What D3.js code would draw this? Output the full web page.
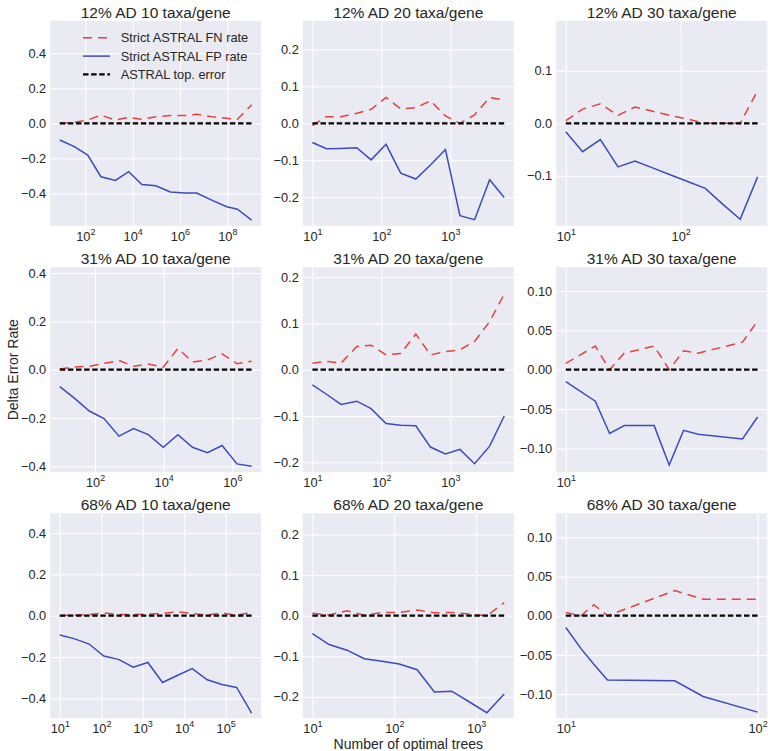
<!DOCTYPE html>
<html>
<head>
<meta charset="utf-8">
<script src="https://cdn.jsdelivr.net/npm/d3@7"></script>
<style>
  body { margin: 0; background: #ffffff; }
  svg { display: block; }
  text { font-family: "Liberation Sans", Arial, sans-serif; fill: #262626; }
</style>
</head>
<body>
<svg id="chart" width="768" height="751"></svg>
<script>
// ---- panel titles ----
const titles = [
  "12% AD 10 taxa/gene", "12% AD 20 taxa/gene", "12% AD 30 taxa/gene",
  "31% AD 10 taxa/gene", "31% AD 20 taxa/gene", "31% AD 30 taxa/gene",
  "68% AD 10 taxa/gene", "68% AD 20 taxa/gene", "68% AD 30 taxa/gene"
];
const seriesNames = ["Strict ASTRAL FN rate", "Strict ASTRAL FP rate", "ASTRAL top. error"];

// ---- number of optimal trees (x) and delta error rates per panel ----
const x12_10 = [8.3, 34, 126, 455, 1860, 6800, 24500, 96000, 390000, 1550000, 5100000, 22000000, 95000000, 270000000, 1070000000];
const fn12_10 = [0.0, 0.006, 0.019, 0.046, 0.019, 0.034, 0.023, 0.038, 0.044, 0.044, 0.051, 0.038, 0.029, 0.023, 0.105];
const fp12_10 = [-0.095, -0.133, -0.181, -0.305, -0.326, -0.276, -0.349, -0.356, -0.392, -0.398, -0.398, -0.438, -0.476, -0.490, -0.552];

const x12_20 = [10, 16, 26, 44, 71, 117, 191, 316, 515, 850, 1380, 2250, 3720, 6050];
const fn12_20 = [-0.006, 0.018, 0.018, 0.027, 0.038, 0.070, 0.039, 0.042, 0.061, 0.020, 0.0, 0.023, 0.070, 0.063];
const fp12_20 = [-0.052, -0.069, -0.068, -0.066, -0.099, -0.057, -0.135, -0.151, -0.113, -0.071, -0.250, -0.261, -0.153, -0.201];

const x12_30 = [10, 14, 20, 28.5, 40, 57, 81, 115, 164, 232, 330, 468];
const fn12_30 = [0.005, 0.027, 0.037, 0.015, 0.031, 0.023, 0.015, 0.008, 0.0, 0.0, 0.0, 0.062];
const fp12_30 = [-0.016, -0.054, -0.031, -0.083, -0.072, -0.085, -0.098, -0.111, -0.124, -0.154, -0.183, -0.102];

const x31_10 = [9.4, 25, 68, 183, 500, 1330, 3570, 9700, 26000, 69000, 188000, 505000, 1370000, 3650000];
const fn31_10 = [0.003, 0.011, 0.014, 0.026, 0.038, 0.014, 0.024, 0.010, 0.088, 0.032, 0.040, 0.066, 0.025, 0.035];
const fp31_10 = [-0.070, -0.118, -0.171, -0.202, -0.275, -0.244, -0.269, -0.321, -0.269, -0.321, -0.344, -0.314, -0.390, -0.400];

const x31_20 = [10, 16, 26, 44, 71, 117, 191, 316, 515, 850, 1380, 2250, 3720, 6050];
const fn31_20 = [0.014, 0.018, 0.014, 0.050, 0.053, 0.032, 0.035, 0.077, 0.032, 0.039, 0.043, 0.061, 0.104, 0.163];
const fp31_20 = [-0.033, -0.053, -0.075, -0.068, -0.084, -0.116, -0.120, -0.121, -0.167, -0.182, -0.172, -0.203, -0.165, -0.100];

const x31_30 = [10, 13.9, 16.3, 19.2, 26.8, 31.7, 37.2, 43.7, 71.8, 85];
const fn31_30 = [0.008, 0.030, 0.0, 0.021, 0.030, 0.0, 0.024, 0.021, 0.035, 0.062];
const fp31_30 = [-0.015, -0.040, -0.081, -0.071, -0.071, -0.121, -0.077, -0.082, -0.088, -0.060];

const x68_10 = [10, 23, 51, 115, 261, 589, 1330, 3000, 6780, 15600, 36000, 81300, 184000, 423000];
const fn68_10 = [0.0, 0.003, 0.006, 0.013, 0.006, 0.005, 0.008, 0.010, 0.019, 0.011, 0.003, 0.014, 0.002, 0.016];
const fp68_10 = [-0.093, -0.112, -0.137, -0.195, -0.211, -0.249, -0.226, -0.323, -0.289, -0.256, -0.310, -0.333, -0.347, -0.471];

const x68_20 = [10, 16, 26.5, 43, 71, 115, 190, 309, 503, 820, 1350, 2200];
const fn68_20 = [0.006, 0.002, 0.012, 0.001, 0.008, 0.008, 0.014, 0.007, 0.008, 0.004, 0.0, 0.032];
const fp68_20 = [-0.044, -0.071, -0.085, -0.106, -0.112, -0.119, -0.133, -0.188, -0.186, -0.212, -0.239, -0.193];

const x68_30 = [10, 12, 14, 16.5, 37, 52, 100];
const fn68_30 = [0.004, 0.0, 0.014, 0.0, 0.032, 0.021, 0.021];
const fp68_30 = [-0.015, -0.042, -0.062, -0.082, -0.083, -0.103, -0.123];

// ---- tick values: x as powers of ten, y as plain values ----
const xExp12_10 = [2, 4, 6, 8], xExp12_20 = [1, 2, 3], xExp12_30 = [1, 2];
const xExp31_10 = [2, 4, 6], xExp31_20 = [1, 2, 3], xExp31_30 = [1];
const xExp68_10 = [1, 2, 3, 4, 5], xExp68_20 = [1, 2, 3], xExp68_30 = [1, 2];

const yTicksWide = [-0.4, -0.2, 0.0, 0.2, 0.4];
const yTicksMid = [-0.2, -0.1, 0.0, 0.1, 0.2];
const yTicksNarrow = [-0.1, 0.0, 0.1];
const yTicksFine = [-0.10, -0.05, 0.00, 0.05, 0.10];

const panels = [
  { title: titles[0], x: x12_10, fn: fn12_10, fp: fp12_10, xExp: xExp12_10, yTicks: yTicksWide },
  { title: titles[1], x: x12_20, fn: fn12_20, fp: fp12_20, xExp: xExp12_20, yTicks: yTicksMid },
  { title: titles[2], x: x12_30, fn: fn12_30, fp: fp12_30, xExp: xExp12_30, yTicks: yTicksNarrow },
  { title: titles[3], x: x31_10, fn: fn31_10, fp: fp31_10, xExp: xExp31_10, yTicks: yTicksWide },
  { title: titles[4], x: x31_20, fn: fn31_20, fp: fp31_20, xExp: xExp31_20, yTicks: yTicksMid },
  { title: titles[5], x: x31_30, fn: fn31_30, fp: fp31_30, xExp: xExp31_30, yTicks: yTicksFine },
  { title: titles[6], x: x68_10, fn: fn68_10, fp: fp68_10, xExp: xExp68_10, yTicks: yTicksWide },
  { title: titles[7], x: x68_20, fn: fn68_20, fp: fp68_20, xExp: xExp68_20, yTicks: yTicksMid },
  { title: titles[8], x: x68_30, fn: fn68_30, fp: fp68_30, xExp: xExp68_30, yTicks: yTicksFine }
];

// ---- layout and styles ----
const colLeft = [50.2, 302.8, 556.2];
const rowTop = [20.8, 267.2, 513.2];
const W = 211, H = 205;
const BG = "#eaeaf2";
const FN_COLOR = "#e8413c", FP_COLOR = "#3b4cc0", TOP_COLOR = "#000000";
const FN_DASH = "9,6", TOP_DASH = "5.5,2.6";
const TICK_FONT = 12.8, TITLE_FONT = 15.5, LABEL_FONT = 14;

const svg = d3.select("#chart");

panels.forEach((p, i) => {
  const r = Math.floor(i / 3), c = i % 3;
  const L = colLeft[c], T = rowTop[r];

  // log-x limits with 5% margins in log space
  const lx = p.x.map(Math.log10);
  const lo = d3.min(lx), hi = d3.max(lx), padX = 0.05 * (hi - lo);
  const x = d3.scaleLog().domain([10 ** (lo - padX), 10 ** (hi + padX)]).range([L, L + W]);

  // symmetric y limits around zero
  const vals = p.fn.concat(p.fp, [0]);
  const ymin = d3.min(vals), ymax = d3.max(vals), padY = 0.05 * (ymax - ymin);
  const m = Math.max(Math.abs(ymin - padY), Math.abs(ymax + padY));
  const y = d3.scaleLinear().domain([-m, m]).range([T + H, T]);

  const g = svg.append("g");
  g.append("rect").attr("x", L).attr("y", T).attr("width", W).attr("height", H).attr("fill", BG);

  const clipId = "clip" + i;
  svg.append("clipPath").attr("id", clipId)
    .append("rect").attr("x", L).attr("y", T).attr("width", W).attr("height", H);

  // grid lines
  const xTickVals = p.xExp.map(e => 10 ** e);
  g.append("g").attr("transform", `translate(0,${T + H})`)
    .call(d3.axisBottom(x).tickValues(xTickVals).tickSize(-H).tickFormat(""))
    .call(a => a.select(".domain").remove())
    .call(a => a.selectAll("line").attr("stroke", "#ffffff").attr("stroke-width", 1));
  g.append("g").attr("transform", `translate(${L},0)`)
    .call(d3.axisLeft(y).tickValues(p.yTicks).tickSize(-W).tickFormat(""))
    .call(a => a.select(".domain").remove())
    .call(a => a.selectAll("line").attr("stroke", "#ffffff").attr("stroke-width", 1));

  // y tick labels
  const step = p.yTicks[1] - p.yTicks[0];
  const fmt = d3.format(step < 0.09 ? ".2f" : ".1f");
  g.append("g").attr("transform", `translate(${L},0)`)
    .call(d3.axisLeft(y).tickValues(p.yTicks).tickSize(0).tickPadding(4).tickFormat(fmt))
    .call(a => a.select(".domain").remove())
    .call(a => a.selectAll("text").attr("font-size", TICK_FONT).attr("font-family", null).attr("fill", "#262626"));

  // x tick labels as powers of ten
  g.append("g").attr("transform", `translate(0,${T + H})`)
    .call(d3.axisBottom(x).tickValues(xTickVals).tickSize(0).tickFormat(""))
    .call(a => a.select(".domain").remove())
    .call(a => a.selectAll(".tick text").each(function (d) {
      const t = d3.select(this)
        .attr("y", 14.8).attr("dy", null)
        .attr("font-size", TICK_FONT).attr("font-family", null).attr("fill", "#262626");
      t.text("10");
      t.append("tspan").attr("font-size", TICK_FONT * 0.7).attr("dy", -6)
        .text(String(Math.round(Math.log10(d))));
    }));

  // series lines
  const pts = k => p.x.map((xv, j) => [xv, p[k][j]]);
  const line = d3.line().x(d => x(d[0])).y(d => y(d[1]));
  const plot = g.append("g").attr("clip-path", `url(#${clipId})`);
  plot.append("path").datum(pts("fn")).attr("d", line)
    .attr("fill", "none").attr("stroke", FN_COLOR).attr("stroke-width", 1.5).attr("stroke-dasharray", FN_DASH);
  plot.append("path").datum(pts("fp")).attr("d", line)
    .attr("fill", "none").attr("stroke", FP_COLOR).attr("stroke-width", 1.5);
  const zeroLine = [[p.x[0], 0], [p.x[p.x.length - 1], 0]];
  plot.append("path").datum(zeroLine).attr("d", line)
    .attr("fill", "none").attr("stroke", TOP_COLOR).attr("stroke-width", 2.2).attr("stroke-dasharray", TOP_DASH);

  // title
  g.append("text").attr("x", L + W / 2).attr("y", T - 3)
    .attr("text-anchor", "middle").attr("font-size", TITLE_FONT).text(p.title);

  // legend in the first panel
  if (i === 0) {
    const styles = [
      { color: FN_COLOR, width: 1.5, dash: FN_DASH },
      { color: FP_COLOR, width: 1.5, dash: null },
      { color: TOP_COLOR, width: 2.2, dash: TOP_DASH }
    ];
    const leg = g.append("g");
    seriesNames.forEach((name, k) => {
      const cy = T + 17 + k * 18.3;
      leg.append("line").attr("x1", L + 32.8).attr("x2", L + 59.8).attr("y1", cy).attr("y2", cy)
        .attr("stroke", styles[k].color).attr("stroke-width", styles[k].width)
        .attr("stroke-dasharray", styles[k].dash);
      leg.append("text").attr("x", L + 70.5).attr("y", cy).attr("dy", "0.35em")
        .attr("font-size", TICK_FONT).text(name);
    });
  }

  // axis labels
  if (i === 3) {
    svg.append("text").attr("transform", `translate(18,${T + H / 2}) rotate(-90)`)
      .attr("text-anchor", "middle").attr("font-size", LABEL_FONT).text("Delta Error Rate");
  }
  if (i === 7) {
    svg.append("text").attr("x", L + W / 2).attr("y", 748.8)
      .attr("text-anchor", "middle").attr("font-size", LABEL_FONT).text("Number of optimal trees");
  }
});
</script>
</body>
</html>
